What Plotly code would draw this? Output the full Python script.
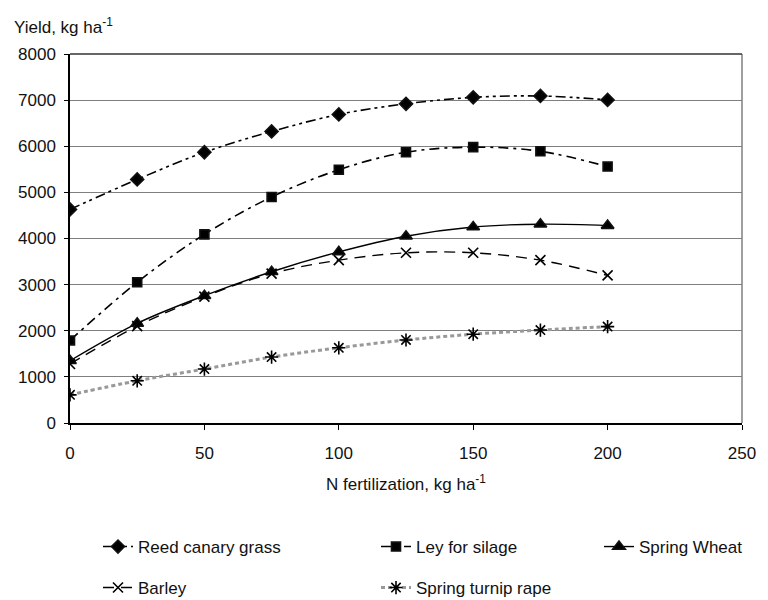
import plotly.graph_objects as go

n_rate = [0, 25, 50, 75, 100, 125, 150, 175, 200]
reed_canary_grass = [4630, 5280, 5870, 6320, 6690, 6920, 7060, 7090, 7005]
ley_for_silage = [1790, 3050, 4090, 4900, 5490, 5870, 5980, 5890, 5560]
spring_wheat = [1350, 2160, 2760, 3280, 3710, 4050, 4250, 4310, 4280]
barley = [1280, 2100, 2740, 3240, 3530, 3690, 3690, 3530, 3200]
spring_turnip_rape = [610, 915, 1170, 1430, 1630, 1800, 1925, 2015, 2090]

series = [
    ("Reed canary grass", reed_canary_grass, "black", "10px,4px,3px,4px,3px,4px", 1.6, "diamond", 10, "legend"),
    ("Ley for silage", ley_for_silage, "black", "10px,5px,3px,5px", 1.6, "square", 9, "legend2"),
    ("Spring Wheat", spring_wheat, "black", "solid", 1.4, "triangle-up", 11, "legend3"),
    ("Barley", barley, "black", "11px,7px", 1.4, "x-thin-open", 10, "legend4"),
    ("Spring turnip rape", spring_turnip_rape, "#999999", "4px,3px", 3, "asterisk-open", 11, "legend5"),
]

fig = go.Figure()
for name, ys, col, dash, w, sym, size, leg in series:
    fig.add_trace(go.Scatter(
        x=n_rate, y=ys, name=name, mode="lines+markers",
        line=dict(color=col, dash=dash, width=w, shape="spline", smoothing=1.0),
        marker=dict(symbol=sym, size=size, color="black",
                    line=dict(color="#111111", width=1.6)),
        legend=leg, showlegend=True,
    ))

font = dict(family="Liberation Sans, Arial, sans-serif", size=17, color="#111111")


def leg(xpx, ypx):
    return dict(orientation="h", x=xpx / 768, xref="container", xanchor="left",
                y=1 - ypx / 600, yref="container", yanchor="middle",
                font=dict(size=17), bgcolor="rgba(0,0,0,0)", visible=True)


fig.update_layout(
    width=768, height=600,
    showlegend=True,
    margin=dict(l=70, r=15, t=54, b=177),
    paper_bgcolor="white", plot_bgcolor="white",
    font=font,
    xaxis=dict(range=[0, 250], tickvals=[0, 50, 100, 150, 200, 250],
               showline=True, linecolor="black", linewidth=1.5,
               ticks="outside", ticklen=5, tickcolor="black",
               ticklabelstandoff=9,
               showgrid=False, zeroline=False,
               title=dict(text="N fertilization, kg ha<sup>-1</sup>", standoff=16,
                          font=dict(size=17))),
    yaxis=dict(range=[0, 8000], tickvals=list(range(0, 8001, 1000)),
               showline=True, linecolor="black", linewidth=1.5,
               ticks="outside", ticklen=4, tickcolor="black",
               ticklabelstandoff=5,
               showgrid=True, gridcolor="#7f7f7f", gridwidth=1,
               zeroline=False),
    legend=leg(98, 547),
    legend2=leg(376, 547),
    legend3=leg(599, 547),
    legend4=leg(98, 588),
    legend5=leg(376, 588),
    shapes=[
        dict(type="line", xref="paper", yref="paper", x0=1, x1=1, y0=0, y1=1,
             line=dict(color="#7f7f7f", width=1.5)),
        dict(type="line", xref="paper", yref="paper", x0=0, x1=1, y0=1, y1=1,
             line=dict(color="#333333", width=1.5)),
    ],
    annotations=[
        dict(text="Yield, kg ha<sup>-1</sup>", xref="paper", yref="paper",
             x=-0.087, y=1.076, xanchor="left", yanchor="middle",
             showarrow=False, font=dict(size=17)),
    ],
)

fig.write_html("out.html")
